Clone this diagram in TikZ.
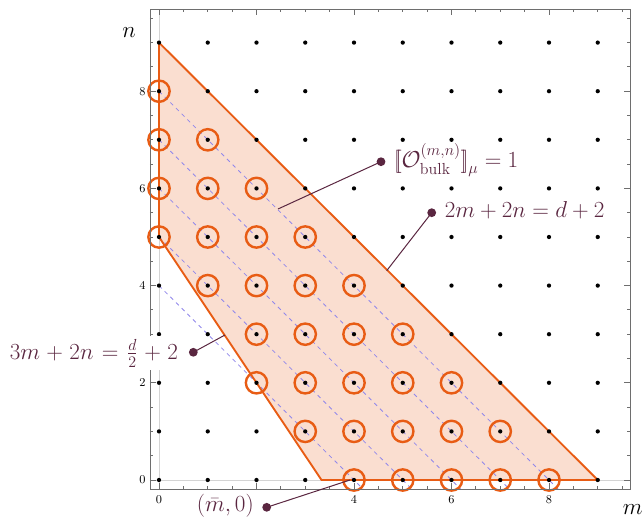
\documentclass[tikz,border=0pt]{standalone}
\usepackage{amsmath}
\definecolor{orng}{RGB}{232,92,20}
\definecolor{peach}{RGB}{250,222,208}
\definecolor{dashc}{RGB}{145,135,235}
\definecolor{lbl}{RGB}{90,38,64}
\definecolor{framec}{RGB}{110,110,110}
\definecolor{axisc}{RGB}{212,212,212}
\newcommand{\dlb}{\mathopen{[\mkern-3.2mu[}}
\newcommand{\drb}{\mathclose{]\mkern-3.2mu]}}
\tikzset{
  latdot/.style={circle,fill=black,inner sep=0pt,minimum size=3.2pt},
  ring/.style={draw=orng,line width=1.8pt},
  rim/.style={draw=orng,line width=1.4pt,line join=round},
  guide/.style={draw=dashc,line width=0.6pt,dash pattern=on 3pt off 3pt},
  calldot/.style={circle,fill=lbl,inner sep=0pt,minimum size=6.6pt},
  callline/.style={draw=lbl,line width=0.75pt},
  lbltext/.style={text=lbl,inner sep=0pt,font=\fontsize{17.28}{20}\selectfont},
  axlbl/.style={inner sep=0pt,font=\fontsize{17.28}{20}\selectfont},
  ticklbl/.style={inner sep=0pt,font=\fontsize{9}{10}\selectfont},
  framel/.style={draw=framec,line width=0.6pt},
}
\begin{document}
\begin{tikzpicture}[x=36.5625pt,y=36.45pt]
\useasboundingbox (-3.2615,-0.823) rectangle (9.9077,9.8765);
\def\xa{-0.185}\def\xb{9.662}\def\ya{-0.185}\def\yb{9.691}
% grey axes
\draw[axisc,line width=0.6pt] (0,\ya) -- (0,\yb);
\draw[axisc,line width=0.6pt] (\xa,0) -- (\xb,0);
% allowed region
\fill[peach] (0,9) -- (9,0) -- (10/3,0) -- (0,5) -- cycle;
% guide lines
\foreach \k in {4,...,8} \draw[guide] (0,\k) -- ({\k+0.185},-0.185);
\draw[rim] (0,9) -- (9,0) -- (10/3,0) -- (0,5) -- cycle;
% rings
\foreach \m/\n in {0/8,0/7,1/7,0/6,1/6,2/6,0/5,1/5,2/5,3/5,1/4,2/4,3/4,4/4,
  2/3,3/3,4/3,5/3,2/2,3/2,4/2,5/2,6/2,3/1,4/1,5/1,6/1,7/1,4/0,5/0,6/0,7/0,8/0}
  \draw[ring] (\m,\n) circle[radius=8pt];
% lattice dots
\foreach \m in {0,...,9} \foreach \n in {0,...,9} \node[latdot] (d-\m-\n) at (\m,\n) {};
% frame and ticks
\draw[framel] (\xa,\ya) rectangle (\xb,\yb);
\foreach \t in {0,0.5,...,9.5} {
  \draw[framel] (\t,\ya) -- ++(0,2.6pt);
  \draw[framel] (\t,\yb) -- ++(0,-2.6pt);
  \draw[framel] (\xa,\t) -- ++(2.6pt,0);
  \draw[framel] (\xb,\t) -- ++(-2.6pt,0);
}
\foreach \t in {0,2,4,6,8} {
  \draw[framel] (\t,\ya) -- ++(0,4.2pt);
  \draw[framel] (\t,\yb) -- ++(0,-4.2pt);
  \draw[framel] (\xa,\t) -- ++(4.2pt,0);
  \draw[framel] (\xb,\t) -- ++(-4.2pt,0);
  \node[ticklbl,anchor=east] (yl\t) at (-0.273,\t) {\t};
}
\foreach \t in {0,4,6,8} \node[ticklbl] (xl\t) at (\t,-0.41) {\t};
% axis labels
\node[axlbl,anchor=base] (nlab) at (-0.615,9.095) {$n$};
\node[axlbl,anchor=base west] (mlab) at (9.512,-0.70) {$m$};
% callouts
\coordinate (bulkc) at (4.554,6.549);
\coordinate (upc) at (5.594,5.500);
\coordinate (lowc) at (0.704,2.628);
\coordinate (mbc) at (2.209,-0.562);
\coordinate (bulkend) at (2.441,5.576);
\coordinate (upend) at (4.671,4.307);
\coordinate (lowend) at (1.354,2.984);
\coordinate (mbend) at (3.918,0);
\draw[callline] (bulkc) -- (bulkend);
\draw[callline] (upc) -- (upend);
\draw[callline] (lowc) -- (lowend);
\draw[callline] (mbc) -- (mbend);
\node[calldot] (bulkdot) at (bulkc) {};
\node[calldot] (updot) at (upc) {};
\node[calldot] (lowdot) at (lowc) {};
\node[calldot] (mbdot) at (mbc) {};
\node[lbltext,anchor=base west] (bulklab) at (4.82,6.434)
  {$\dlb\mathcal{O}^{(m,n)}_{\text{bulk}}\drb_\mu = 1$};
\node[lbltext,anchor=base west] (uplab) at (5.857,5.405) {$2m+2n=d+2$};
\node[lbltext,anchor=base east,fill=white,inner sep=2pt] (lowlab) at (0.45,2.483)
  {$\medmuskip=5mu\thickmuskip=6.5mu 3m+2n=\frac{d}{2}+2$};
\node[lbltext,anchor=base west,fill=white,inner sep=1.5pt] (mblab) at (0.733,-0.638)
  {$(\bar{m},0)$};
\end{tikzpicture}
\end{document}
